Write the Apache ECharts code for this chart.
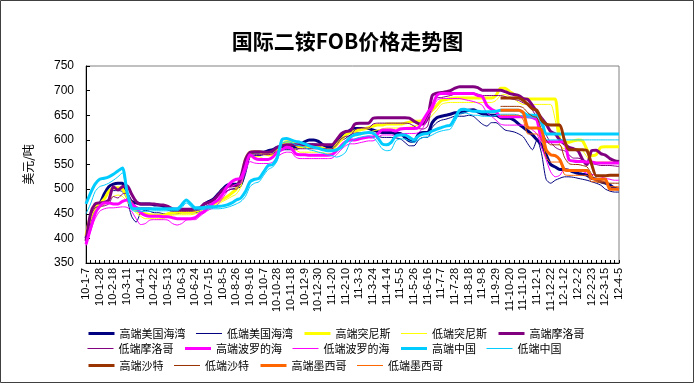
<!DOCTYPE html>
<html>
<head>
<meta charset="utf-8">
<style>
html,body{margin:0;padding:0;background:#fff;}
#chart{width:695px;height:384px;}
</style>
<script src="https://cdn.jsdelivr.net/npm/echarts@6/dist/echarts.min.js"></script>
</head>
<body>
<div id="chart"></div>
<script>
// Weekly dates (categories)
const dates = ['10-1-7','10-1-14','10-1-21','10-1-28','10-2-4','10-2-11','10-2-18','10-2-25','10-3-4','10-3-11','10-3-18','10-3-25','10-4-1','10-4-8','10-4-15','10-4-22','10-4-29','10-5-6','10-5-13','10-5-20','10-5-27','10-6-3','10-6-10','10-6-17','10-6-24','10-7-1','10-7-8','10-7-15','10-7-22','10-7-29','10-8-5','10-8-12','10-8-19','10-8-26','10-9-2','10-9-9','10-9-16','10-9-23','10-9-30','10-10-7','10-10-14','10-10-21','10-10-28','10-11-4','10-11-11','10-11-18','10-11-25','10-12-2','10-12-9','10-12-16','10-12-23','10-12-30',
'11-1-6','11-1-13','11-1-20','11-1-27','11-2-3','11-2-10','11-2-17','11-2-24','11-3-3','11-3-10','11-3-17','11-3-24','11-3-31','11-4-7','11-4-14','11-4-21','11-4-28','11-5-5','11-5-12','11-5-19','11-5-26','11-6-2','11-6-9','11-6-16','11-6-23','11-6-30','11-7-7','11-7-14','11-7-21','11-7-28','11-8-4','11-8-11','11-8-18','11-8-25','11-9-1','11-9-8','11-9-15','11-9-22','11-9-29','11-10-6','11-10-13','11-10-20','11-10-27','11-11-3','11-11-10','11-11-17','11-11-24','11-12-1','11-12-8','11-12-15','11-12-22','11-12-29',
'12-1-5','12-1-12','12-1-19','12-1-26','12-2-2','12-2-9','12-2-16','12-2-23','12-3-1','12-3-8','12-3-15','12-3-22','12-3-29','12-4-5'];

// 高端美国海湾
const usHi = [400,440,465,470,490,505,510,512,512,490,
475,472,470,470,470,468,468,465,460,457,
457,457,457,457,457,460,470,475,480,490,
500,508,510,510,512,545,572,575,575,575,
578,580,585,586,586,586,586,590,596,600,
600,597,590,586,586,595,605,612,620,623,
623,623,623,620,617,615,615,615,613,613,
605,598,597,612,615,615,635,645,648,650,
652,655,655,657,660,661,657,653,652,650,
650,645,644,644,640,632,625,618,610,600,
590,570,550,545,540,540,538,535,532,530,
528,522,520,515,512,508,502,500];
// 低端美国海湾
const usLo = [395,430,455,465,480,492,497,497,495,480,
445,433,452,457,455,452,452,450,450,450,
450,452,452,452,452,455,462,468,472,480,
490,497,500,502,505,530,565,568,568,570,
572,575,578,580,580,580,580,584,588,592,
592,590,582,578,578,588,598,603,610,614,
614,614,614,612,608,605,605,605,604,602,
595,588,588,600,605,605,625,635,640,642,
645,648,648,648,650,648,640,632,628,635,
635,628,620,618,616,612,606,592,580,600,
572,520,512,518,522,525,525,524,522,520,
518,515,512,508,500,496,494,494];
// 高端突尼斯
const tnHi = [405,445,462,470,480,495,502,503,500,485,
470,458,452,450,448,447,447,447,450,452,
453,453,453,453,455,458,462,465,470,475,
480,485,492,500,520,560,575,576,576,572,
570,570,580,590,596,596,590,585,585,585,
585,585,583,580,580,590,600,610,615,618,
620,622,625,628,630,630,632,632,632,632,
634,636,638,638,640,650,660,670,680,682,
684,685,685,685,685,685,685,685,685,685,
690,705,705,698,692,685,683,683,683,683,
683,683,683,683,600,595,595,598,600,598,
580,568,570,585,586,586,586,586];
// 低端突尼斯
const tnLo = [400,435,455,462,468,478,485,488,485,475,
462,452,445,440,440,440,440,440,445,447,
448,448,448,448,450,452,456,460,465,470,
475,480,485,490,505,545,565,566,566,562,
562,565,572,580,585,585,580,575,575,575,
575,575,574,572,572,580,590,598,605,608,
610,612,615,618,620,622,624,624,624,624,
625,626,628,630,632,640,650,660,672,675,
676,676,676,676,676,676,676,676,676,676,
680,690,692,688,683,676,672,672,672,672,
672,672,672,640,590,582,582,582,582,578,
565,555,555,555,555,555,555,555];
// 高端摩洛哥
const moHi = [395,450,470,472,473,478,505,498,505,507,
490,475,470,470,470,470,468,468,465,460,
459,459,459,459,460,462,470,473,478,488,
498,505,507,507,525,560,575,576,576,575,
575,578,585,588,590,590,590,590,590,590,
590,590,590,590,590,600,612,617,618,632,
634,634,634,644,645,645,645,645,645,645,
645,644,638,633,632,645,690,695,696,698,
700,705,708,708,708,708,706,701,701,701,
701,701,698,694,692,690,684,682,670,657,
644,632,617,612,600,592,585,582,578,560,
550,578,579,572,569,562,558,556];
// 低端摩洛哥
const moLo = [390,445,462,465,466,470,485,482,490,492,
478,465,462,462,462,460,460,460,458,455,
455,455,455,455,456,458,464,468,472,480,
490,496,500,500,515,550,568,570,570,570,
570,572,578,580,582,582,582,582,582,582,
582,582,582,582,582,590,602,607,608,620,
624,624,624,632,634,634,634,634,634,634,
634,633,628,623,622,628,672,685,686,688,
690,693,695,695,695,695,693,690,690,690,
690,690,688,684,682,680,675,670,660,645,
630,610,595,585,580,578,570,563,563,560,
555,552,550,548,548,548,547,546];
// 高端波罗的海
const btHi = [388,420,450,465,472,472,470,470,475,478,
470,462,452,447,445,445,445,444,444,442,
440,440,440,440,442,450,455,465,472,478,
490,505,515,520,522,545,570,563,560,560,
560,565,575,580,585,583,572,570,570,569,
569,569,569,569,570,578,588,596,600,600,
602,604,606,606,612,620,620,620,618,622,
623,623,623,625,640,655,668,690,694,694,
694,694,694,694,694,694,690,688,670,662,
657,647,647,647,647,647,647,647,645,640,
600,597,596,596,596,596,560,557,556,556,
555,555,553,553,553,553,553,553];
// 低端波罗的海
const btLo = [385,415,440,455,460,462,462,463,464,463,
455,440,428,430,437,438,438,438,437,430,
427,430,437,438,438,445,452,458,462,470,
482,495,505,510,512,535,556,553,552,552,
552,555,565,572,575,575,565,562,562,562,
562,562,562,562,563,570,580,588,592,592,
594,596,598,598,604,610,610,610,608,612,
613,613,613,615,625,645,660,680,684,684,
684,684,684,682,680,678,675,670,655,648,
640,632,630,630,630,630,630,628,620,612,
585,560,535,525,528,540,540,538,538,536,
532,530,528,525,522,520,518,518];
// 高端中国
const cnHi = [470,492,510,520,522,525,530,537,543,495,
462,460,460,460,460,460,460,460,460,460,
460,468,478,470,462,462,463,464,464,465,
466,468,472,478,482,495,515,520,522,535,
548,550,565,600,603,600,597,595,592,588,
585,583,580,578,578,580,585,595,605,610,
612,614,615,614,605,592,590,595,608,610,
610,605,600,608,612,613,618,622,625,628,
630,645,660,662,660,658,658,657,657,657,
658,660,660,660,660,660,655,650,650,650,
640,612,612,612,612,612,612,612,612,612,
612,612,612,612,612,612,612,612];
// 低端中国
const cnLo = [450,470,495,505,508,512,518,525,533,490,
458,455,455,455,455,456,456,456,456,456,
456,462,472,465,458,458,459,460,460,460,
461,463,466,470,475,485,505,512,515,528,
540,545,558,592,596,595,590,588,585,580,
578,575,573,570,568,565,568,575,595,602,
605,607,608,605,595,582,578,580,598,602,
602,598,595,600,605,606,610,615,618,620,
622,638,652,655,653,650,650,648,648,648,
650,652,652,652,652,650,648,645,645,645,
630,600,600,600,600,600,600,600,600,600,
600,600,600,600,600,600,600,600];
// 沙特 / 墨西哥 start at 11-10-6
const lateDates = dates.slice(91);
const saHi = [685,685,685,685,685,680,672,663,660,640,632,630,630,630,600,580,580,580,580,578,550,527,527,527,528,528,528];
const saLo = [668,668,668,668,668,665,655,648,645,620,600,590,590,590,565,552,550,550,548,545,530,515,513,512,512,512,512];
const mxHi = [660,660,660,660,660,655,625,624,624,620,580,570,568,560,540,538,538,538,538,538,522,520,520,520,500,500,500];
const mxLo = [650,650,650,650,650,640,612,612,612,600,565,555,555,555,530,528,528,528,528,528,515,515,515,515,505,505,505];

const yTicks = {min: 350, max: 750, step: 50};

const names = ['高端美国海湾','低端美国海湾','高端突尼斯','低端突尼斯','高端摩洛哥','低端摩洛哥','高端波罗的海','低端波罗的海','高端中国','低端中国','高端沙特','低端沙特','高端墨西哥','低端墨西哥'];
const values = [usHi,usLo,tnHi,tnLo,moHi,moLo,btHi,btLo,cnHi,cnLo,
  saHi.map((v,k)=>[lateDates[k],v]), saLo.map((v,k)=>[lateDates[k],v]),
  mxHi.map((v,k)=>[lateDates[k],v]), mxLo.map((v,k)=>[lateDates[k],v])];

// styles
const colors = ['#000080','#000080','#FFFF00','#FFFF00','#800080','#800080','#FF00FF','#FF00FF','#00CCFF','#00CCFF','#993300','#993300','#FF6600','#FF6600'];
const widths = [3,1,3,1,3,1,3,1,3,1,3,1,3,1];

const series = names.map((n,k)=>({
  name: n, type: 'line', data: values[k], symbol: 'none', smooth: 0.25,
  lineStyle: {color: colors[k], width: widths[k]}, itemStyle: {color: colors[k]},
  emphasis: {disabled: true}
}));

const legendBase = (from, to, top) => ({
  data: names.slice(from, to).map((n, j) => ({
    name: n,
    lineStyle: {color: colors[from + j], width: widths[from + j]},
    itemStyle: {opacity: 0}
  })),
  top: top, left: 87, orient: 'horizontal', padding: 0,
  itemWidth: 26, itemHeight: 10, itemGap: 10, selectedMode: false,
  itemStyle: {opacity: 0},
  textStyle: {fontFamily: 'Noto Sans CJK SC', fontSize: 11, color: '#000', width: 70}
});

const chart = echarts.init(document.getElementById('chart'), null, {renderer: 'canvas'});
chart.setOption({
  animation: false,
  backgroundColor: '#fff',
  title: {
    text: '国际二铵FOB价格走势图', left: 'center', top: 26,
    textStyle: {fontFamily: 'Noto Sans CJK SC', fontSize: 21, fontWeight: 'bold', color: '#000'}
  },
  legend: [
    legendBase(0, 5, 328),
    legendBase(5, 10, 343),
    legendBase(10, 14, 360)
  ],
  grid: {left: 86, right: 76, top: 66, bottom: 121, show: true, borderColor: '#808080', borderWidth: 1, containLabel: false},
  xAxis: {
    type: 'category', data: dates, boundaryGap: false,
    axisLine: {lineStyle: {color: '#000', width: 1}},
    axisTick: {show: true, inside: true, length: 3, interval: 0, lineStyle: {color: '#000'}},
    axisLabel: {interval: 2, rotate: 90, fontFamily: 'Liberation Sans', fontSize: 11, color: '#000', margin: 5},
    splitLine: {show: false}
  },
  yAxis: {
    type: 'value', min: yTicks.min, max: yTicks.max, interval: yTicks.step,
    name: '美元/吨', nameLocation: 'middle', nameGap: 52, nameRotate: 90,
    nameTextStyle: {fontFamily: 'Noto Sans CJK SC', fontSize: 12, color: '#000'},
    axisLine: {show: true, lineStyle: {color: '#000', width: 1}},
    axisTick: {show: true, inside: true, length: 4, lineStyle: {color: '#000'}},
    axisLabel: {fontFamily: 'Liberation Sans', fontSize: 12, color: '#000', margin: 12},
    splitLine: {show: false}
  },
  graphic: [{
    type: 'rect', shape: {x: 0.5, y: 0.5, width: 693, height: 382},
    style: {fill: 'none', stroke: '#404040', lineWidth: 1}, silent: true, z: 100
  }],
  series: series
});
</script>
</body>
</html>
